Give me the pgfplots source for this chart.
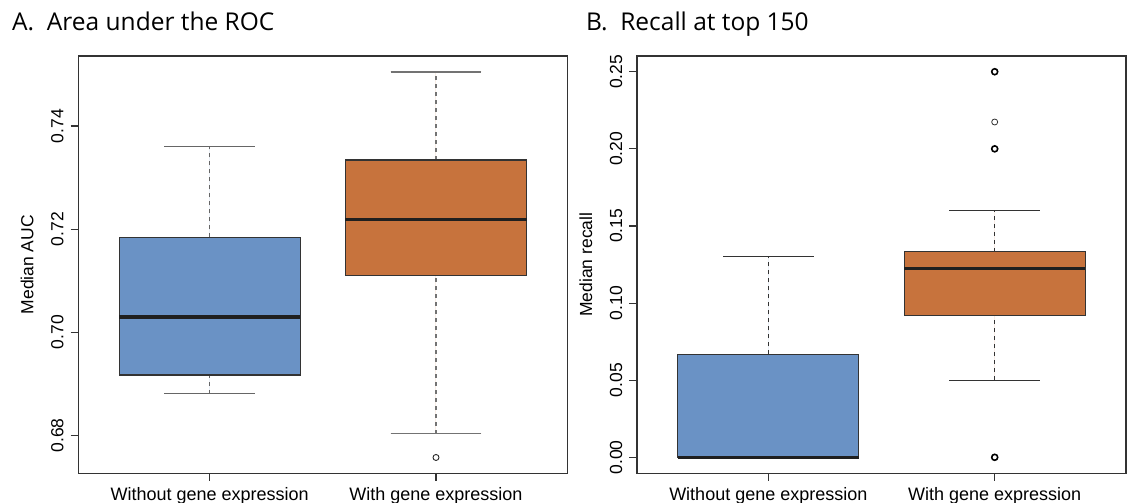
\documentclass[border=0pt]{standalone}
\usepackage{fontspec}
\setmainfont{Liberation Sans}
\newfontfamily\titlefont{Open Sans}
\usepackage{pgfplots}
\pgfplotsset{compat=1.18}
\usepgfplotslibrary{statistics}
\definecolor{boxblue}{RGB}{106,146,197}
\definecolor{boxorange}{RGB}{199,115,61}

\pgfplotsset{
  rbox/.style={
    width=489pt, height=417.3pt, scale only axis,
    xmin=0.42, xmax=2.58,
    xtick={1,2}, xticklabels={Without gene expression, With gene expression},
    tick align=outside, tick pos=left, major tick length=7.6pt,
    axis line style={black!80, line width=1.1pt},
    every tick/.style={black!80, line width=1.1pt},
    xticklabel style={font=\fontsize{18}{20}\selectfont, anchor=base, yshift=-19.5pt},
    yticklabel style={font=\fontsize{17.5}{20}\selectfont, xshift=-7.3pt, rotate=90, anchor=base},
    every axis y label/.style={at={(rel axis cs:0,0.5)}, xshift=-45pt, rotate=90, anchor=base, font=\fontsize{17.5}{20}\selectfont},
    boxplot/draw direction=y,
    boxplot/draw/lower whisker/.code={%
      \draw[/pgfplots/boxplot/every whisker/.try, dash pattern=on 4pt off 4pt]
        (boxplot box cs:\pgfplotsboxplotvalue{lower whisker},0.5) --
        (boxplot box cs:\pgfplotsboxplotvalue{lower quartile},0.5);
      \draw[/pgfplots/boxplot/every whisker/.try]
        (boxplot whisker cs:\pgfplotsboxplotvalue{lower whisker},0) --
        (boxplot whisker cs:\pgfplotsboxplotvalue{lower whisker},1);
    },
    boxplot/draw/upper whisker/.code={%
      \draw[/pgfplots/boxplot/every whisker/.try, dash pattern=on 4pt off 4pt]
        (boxplot box cs:\pgfplotsboxplotvalue{upper quartile},0.5) --
        (boxplot box cs:\pgfplotsboxplotvalue{upper whisker},0.5);
      \draw[/pgfplots/boxplot/every whisker/.try]
        (boxplot whisker cs:\pgfplotsboxplotvalue{upper whisker},0) --
        (boxplot whisker cs:\pgfplotsboxplotvalue{upper whisker},1);
    },
    boxplot/every median/.style={draw=black!88, line width=3.6pt},
    boxplot/box extend=0.8,
    boxplot/whisker extend=0.4,
  }
}

\begin{document}
\begin{tikzpicture}
\useasboundingbox (0,0) rectangle (1128pt,503pt);

\node[anchor=base west, inner sep=0pt, font=\titlefont\fontsize{24.5}{28}\selectfont] at (12pt,472.3pt) {A.\ \ Area under the ROC};
\node[anchor=base west, inner sep=0pt, font=\titlefont\fontsize{24.5}{28}\selectfont] at (586pt,472.3pt) {B.\ \ Recall at top 150};

% Panel A
\begin{axis}[rbox, at={(78.3pt,29.7pt)}, anchor=south west,
  ymin=0.67263, ymax=0.75358,
  ytick={0.68,0.70,0.72,0.74}, yticklabels={0.68,0.70,0.72,0.74},
  ylabel={Median AUC}]
\addplot[boxplot prepared={draw position=1,
    lower whisker=0.6881, lower quartile=0.6917, median=0.7030,
    upper quartile=0.7184, upper whisker=0.7360},
  draw=black!80, line width=1.1pt, fill=boxblue,
  boxplot/every whisker/.style={draw=black!60, line width=1.3pt},
  mark=o, mark size=3pt, mark options={draw=black, solid, fill=none, line width=0.9pt}]
  coordinates {};
\addplot[boxplot prepared={draw position=2,
    lower whisker=0.6803, lower quartile=0.7110, median=0.7219,
    upper quartile=0.7334, upper whisker=0.7505},
  draw=black!80, line width=1.1pt, fill=boxorange,
  boxplot/every whisker/.style={draw=black!55, line width=1.3pt},
  mark=o, mark size=3pt, mark options={draw=black!85, solid, fill=none, line width=0.9pt}]
  table[row sep=\\, y index=0] {y\\ 0.6757\\};
\end{axis}

% Panel B
\begin{axis}[rbox, at={(637pt,29.7pt)}, anchor=south west,
  ymin=-0.01037, ymax=0.2602,
  ytick={0,0.05,0.10,0.15,0.20,0.25}, yticklabels={0.00,0.05,0.10,0.15,0.20,0.25},
  ylabel={Median recall}]
\addplot[boxplot prepared={draw position=1,
    lower whisker=0, lower quartile=0, median=0,
    upper quartile=0.0667, upper whisker=0.1304},
  draw=black!80, line width=1.1pt, fill=boxblue,
  boxplot/every whisker/.style={draw=black!80, line width=1.2pt},
  mark=o, mark size=3pt, mark options={draw=black, solid, fill=none, line width=0.9pt}]
  coordinates {};
\addplot[boxplot prepared={draw position=2,
    lower whisker=0.05, lower quartile=0.0921, median=0.1225,
    upper quartile=0.1333, upper whisker=0.16},
  draw=black!80, line width=1.1pt, fill=boxorange,
  boxplot/every whisker/.style={draw=black!80, line width=1.2pt},
  mark=o, mark size=3pt, mark options={draw=black, solid, fill=none, line width=1.6pt}]
  table[row sep=\\, y index=0] {y\\ 0\\ 0.20\\ 0.25\\};
\addplot[only marks, mark=o, mark size=3pt, mark options={draw=black!80, solid, fill=none, line width=0.8pt}]
  coordinates {(2,0.2174)};
\end{axis}
\end{tikzpicture}
\end{document}
